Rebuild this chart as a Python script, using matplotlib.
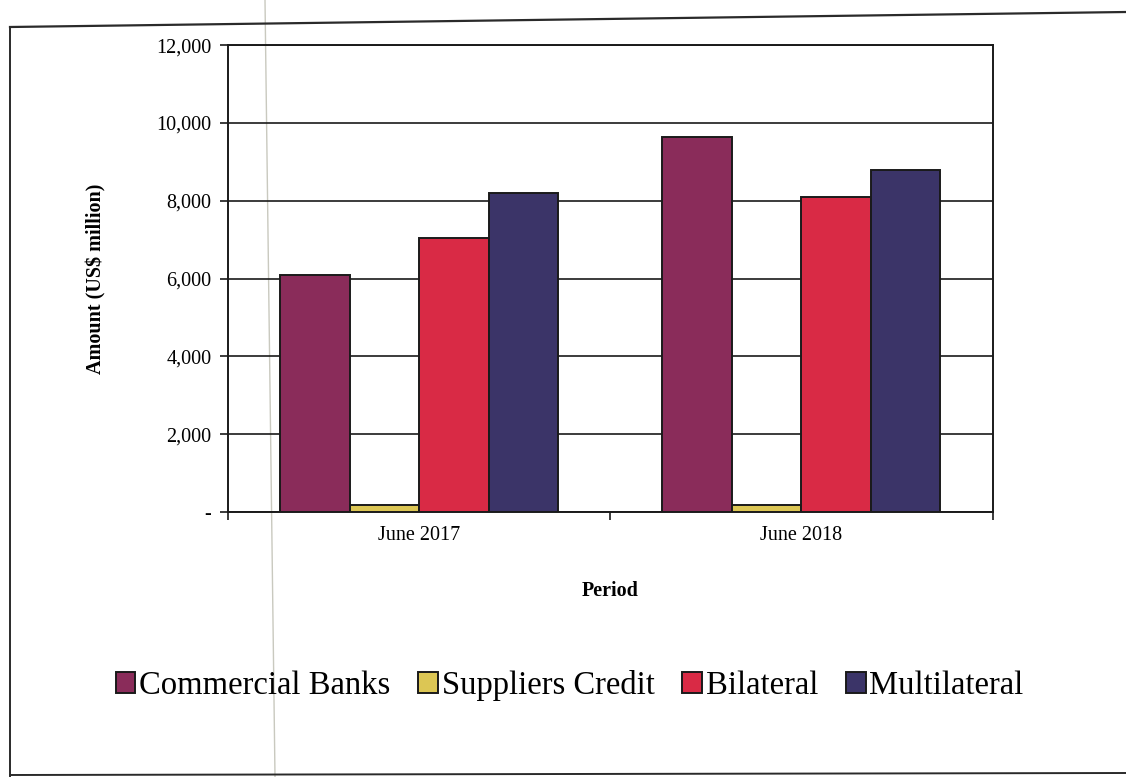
import numpy as np
import matplotlib.pyplot as plt
from matplotlib.lines import Line2D
from matplotlib.ticker import FuncFormatter

plt.rcParams['font.family'] = ['Liberation Serif', 'DejaVu Serif']

periods = ['June 2017', 'June 2018']
series = ['Commercial Banks', 'Suppliers Credit', 'Bilateral', 'Multilateral']
commercial_banks = [6100, 9650]
suppliers_credit = [170, 190]
bilateral = [7030, 8100]
multilateral = [8200, 8800]
colors = ['#8a2c5a', '#dcc654', '#d92a45', '#3b3468']

values = [commercial_banks, suppliers_credit, bilateral, multilateral]

fig = plt.figure(figsize=(11.26, 7.77), dpi=100)
ax = fig.add_axes([0.2025, 0.341, 0.679, 0.601])
ax.patch.set_alpha(0)

x = np.arange(len(periods))
w = 1 / (len(series) + 1.5)
for i, (name, vals) in enumerate(zip(series, values)):
    ax.bar(x + (i - 1.5) * w, vals, w, color=colors[i], edgecolor='#1a1a1a',
           linewidth=1.4, label=name, zorder=3)

ax.set_xlim(-0.5, 1.5)
ax.set_ylim(0, 12000)
ax.set_yticks(range(0, 12001, 2000))
ax.yaxis.set_major_formatter(FuncFormatter(lambda v, p: '-' if v == 0 else f'{int(v):,}'))
ax.grid(axis='y', color='#1a1a1a', linewidth=1.2, zorder=0)
ax.set_axisbelow(True)

ax.set_xticks(x)
ax.set_xticklabels(periods)
ax.set_xticks([-0.5, 0.5, 1.5], minor=True)
ax.tick_params(axis='x', which='major', length=0, labelsize=14.5, pad=10)
ax.tick_params(axis='x', which='minor', length=6, width=1.2, color='#1a1a1a')
ax.tick_params(axis='y', length=6, width=1.2, color='#1a1a1a', labelsize=14.5, pad=6)

for s in ['left', 'bottom', 'right', 'top']:
    ax.spines[s].set_color('#1a1a1a')
    ax.spines[s].set_linewidth(1.4)

ax.set_ylabel('Amount (US$ million)', fontsize=14.5, fontweight='bold', labelpad=36)
ax.set_xlabel('Period', fontsize=14.5, fontweight='bold', labelpad=26)

handles, labels = ax.get_legend_handles_labels()
fig.legend(handles, labels, loc='center', bbox_to_anchor=(0.506, 0.118), ncol=4,
           frameon=False, fontsize=23.5, handlelength=0.6, handleheight=0.6,
           handletextpad=0.12, columnspacing=0.85, borderaxespad=0)

# page frame and fold line from the scanned sheet
fig.add_artist(Line2D([10 / 1126, 1.0], [1 - 27 / 777, 1 - 12 / 777], color='#2a2a2a',
                      linewidth=1.6, transform=fig.transFigure))
fig.add_artist(Line2D([10 / 1126, 10 / 1126], [1 - 27 / 777, 0.0], color='#2a2a2a',
                      linewidth=1.4, transform=fig.transFigure))
fig.add_artist(Line2D([10 / 1126, 1.0], [1 - 775 / 777, 1 - 773 / 777], color='#2a2a2a',
                      linewidth=1.4, transform=fig.transFigure))
fig.add_artist(Line2D([265 / 1126, 275 / 1126], [1.0, 0.0], color='#c9c9bf',
                      linewidth=1.0, transform=fig.transFigure, zorder=-1))

fig.savefig('out.png', dpi=100)
